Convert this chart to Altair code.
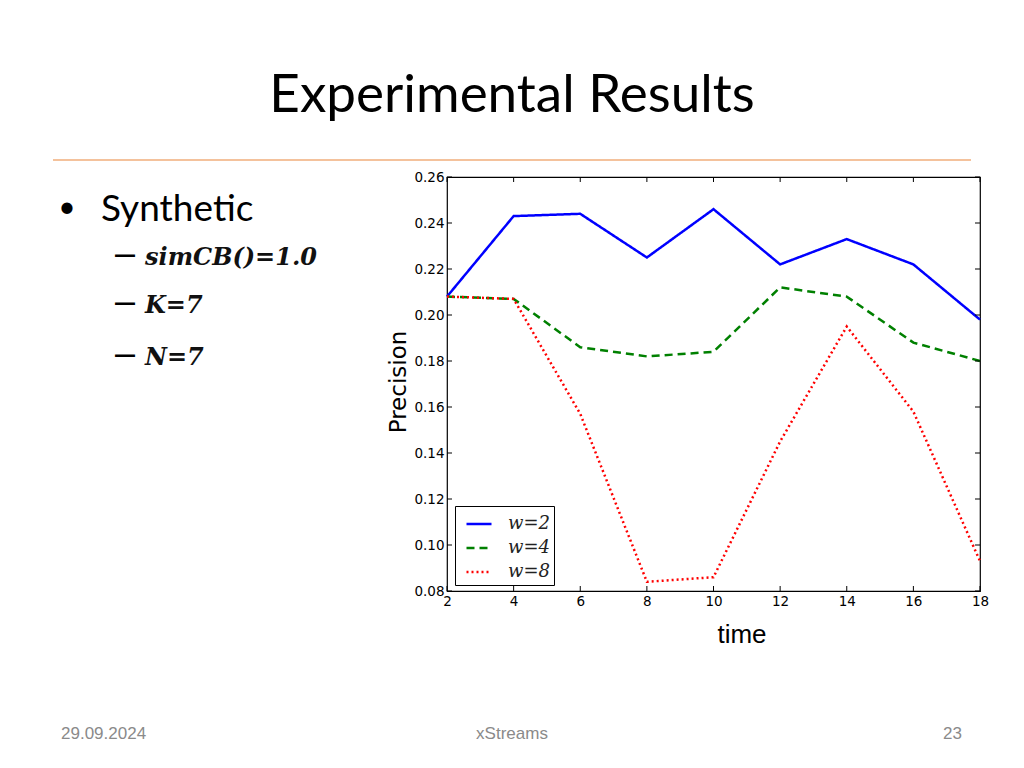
import altair as alt
import pandas as pd

# ---------------- data ----------------
times = [2, 4, 6, 8, 10, 12, 14, 16, 18]
w2 = [0.208, 0.243, 0.244, 0.225, 0.246, 0.222, 0.233, 0.222, 0.198]
w4 = [0.208, 0.207, 0.186, 0.182, 0.184, 0.212, 0.208, 0.188, 0.180]
w8 = [0.208, 0.207, 0.157, 0.084, 0.086, 0.145, 0.195, 0.158, 0.093]
series_names = ["w=2", "w=4", "w=8"]
series_colors = ["#0000ff", "#008000", "#ff0000"]
series_dashes = [[1, 0], [8, 5], [2, 3]]
x_ticks = [2, 4, 6, 8, 10, 12, 14, 16, 18]
y_ticks = [0.08, 0.10, 0.12, 0.14, 0.16, 0.18, 0.20, 0.22, 0.24, 0.26]

slide_title = "Experimental Results"
bullet_main = "Synthetic"
bullet_items = ["simCB()=1.0", "K=7", "N=7"]
footer_date = "29.09.2024"
footer_mid = "xStreams"
footer_page = "23"

rows = []
for name, vals in zip(series_names, [w2, w4, w8]):
    for t, v in zip(times, vals):
        rows.append({"time": t, "precision": v, "series": name})
df = pd.DataFrame(rows)

W, H = 533, 414
xscale = alt.Scale(domain=[2, 18], nice=False, zero=False)
yscale = alt.Scale(domain=[0.08, 0.26], nice=False, zero=False)

lines = alt.Chart(df).mark_line(strokeWidth=2.5).encode(
    x=alt.X("time:Q", scale=xscale,
            axis=alt.Axis(values=x_ticks, ticks=False, domain=False, grid=False,
                          labelFont="DejaVu Sans", labelFontSize=13.5, labelColor="#000",
                          labelPadding=3, title=None, labelFlush=False)),
    y=alt.Y("precision:Q", scale=yscale,
            axis=alt.Axis(values=y_ticks, ticks=False, domain=False, grid=False,
                          format=".2f", labelFont="DejaVu Sans", labelFontSize=13.5,
                          labelColor="#000", labelPadding=3, title=None, labelFlush=False)),
    color=alt.Color("series:N",
                    scale=alt.Scale(domain=series_names, range=series_colors),
                    legend=alt.Legend(orient="none", legendX=8, legendY=329, title=None,
                                      strokeColor="#000", fillColor="#fff", padding=4,
                                      symbolType="stroke", symbolSize=625,
                                      symbolStrokeWidth=2.5, symbolOffset=6,
                                      labelFont="DejaVu Serif", labelFontStyle="italic",
                                      labelFontSize=18, labelColor="#222",
                                      labelOffset=15, rowPadding=1)),
    strokeDash=alt.StrokeDash("series:N",
                              scale=alt.Scale(domain=series_names, range=series_dashes),
                              legend=alt.Legend(orient="none", legendX=8, legendY=329,
                                                title=None)),
)

xt = pd.DataFrame({"t": x_ticks})
yt = pd.DataFrame({"v": y_ticks})
tick_bottom = alt.Chart(xt).mark_rule(color="#000", strokeWidth=1).encode(
    x=alt.X("t:Q", scale=xscale), y=alt.value(H), y2=alt.value(H - 5))
tick_top = alt.Chart(xt).mark_rule(color="#000", strokeWidth=1).encode(
    x=alt.X("t:Q", scale=xscale), y=alt.value(0), y2=alt.value(5))
tick_left = alt.Chart(yt).mark_rule(color="#000", strokeWidth=1).encode(
    y=alt.Y("v:Q", scale=yscale), x=alt.value(0), x2=alt.value(5))
tick_right = alt.Chart(yt).mark_rule(color="#000", strokeWidth=1).encode(
    y=alt.Y("v:Q", scale=yscale), x=alt.value(W), x2=alt.value(W - 5))


def label(text, x, y, **kw):
    return alt.Chart(pd.DataFrame({"s": [text]})).mark_text(**kw).encode(
        text="s:N", x=alt.value(x), y=alt.value(y))


OX, OY = 447, 177  # page position of plot origin

texts = [
    label(slide_title, 512 - OX, 112 - OY, font="Lato", fontSize=53, color="#000",
          align="center", baseline="alphabetic"),
    label("•", 67 - OX, 208 - OY, font="Lato", fontSize=30, color="#000",
          align="center", baseline="middle"),
    label(bullet_main, 101 - OX, 221 - OY, font="Lato", fontSize=37, color="#000",
          align="left", baseline="alphabetic"),
    label("time", 742 - OX, 643 - OY, font="Liberation Sans", fontSize=26, color="#000",
          align="center", baseline="alphabetic"),
    label("Precision", 406 - OX, 382 - OY, font="DejaVu Sans", fontSize=23, color="#000",
          align="center", baseline="alphabetic", angle=270),
    label(footer_date, 61 - OX, 739 - OY, font="Liberation Sans", fontSize=17,
          color="#8a8a8a", align="left", baseline="alphabetic"),
    label(footer_mid, 512 - OX, 739 - OY, font="Liberation Sans", fontSize=17,
          color="#8a8a8a", align="center", baseline="alphabetic"),
    label(footer_page, 962 - OX, 739 - OY, font="Liberation Sans", fontSize=17,
          color="#8a8a8a", align="right", baseline="alphabetic"),
]
for item, by in zip(bullet_items, [265, 313, 365]):
    texts.append(label("–", 125 - OX, by - OY, font="Liberation Sans", fontSize=36,
                       color="#000", align="center", baseline="alphabetic"))
    texts.append(label(item, 145 - OX, by - OY, font="DejaVu Serif", fontSize=24,
                       fontStyle="italic", fontWeight="bold", color="#111",
                       align="left", baseline="alphabetic"))

rule = alt.Chart(pd.DataFrame({"a": [0]})).mark_rule(color="#f4c29c", strokeWidth=2).encode(
    x=alt.value(53 - OX), x2=alt.value(971 - OX), y=alt.value(160 - OY))

chart = alt.layer(lines, tick_bottom, tick_top, tick_left, tick_right, rule, *texts).properties(
    width=W, height=H,
    background="#ffffff",
    autosize=alt.AutoSizeParams(type="none"),
    padding={"left": OX - 8, "top": OY - 8, "right": 1016 - OX - W, "bottom": 752 - OY - H},
).configure_view(stroke="#000", strokeWidth=1.2)

chart.save("out.html", embed_options={"renderer": "svg", "actions": False})
